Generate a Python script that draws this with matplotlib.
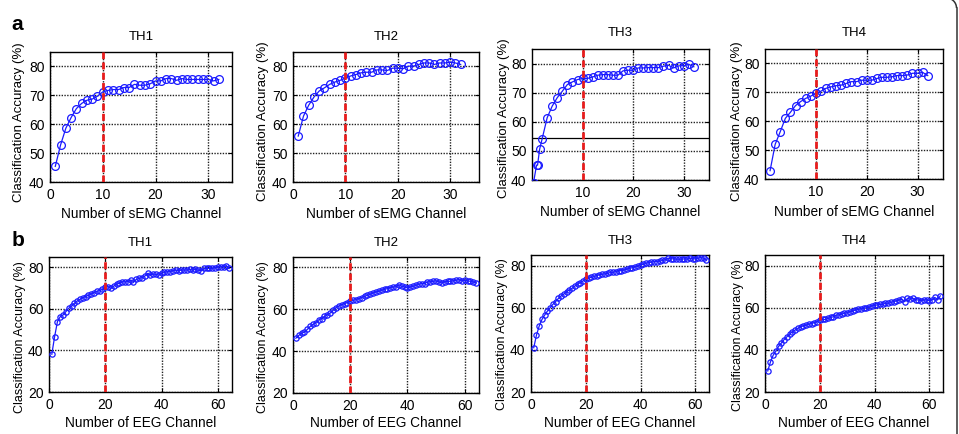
import numpy as np
import matplotlib
matplotlib.use('Agg')
import matplotlib.pyplot as plt
from matplotlib.patches import Arc
from matplotlib.lines import Line2D
from matplotlib.transforms import IdentityTransform

plt.rcParams['font.family'] = ['Liberation Sans', 'DejaVu Sans']

titles = ['TH1', 'TH2', 'TH3', 'TH4']
semg_xlabel = 'Number of sEMG Channel'
eeg_xlabel = 'Number of EEG Channel'
ylabel = 'Classification Accuracy (%)'

semg_x = list(range(1, 33))
semg_x_th3 = [0.3, 0.9, 1.1, 1.5, 2.0] + list(range(3, 33))
eeg_x = list(range(1, 65))

semg_th1 = [45.4, 52.8, 58.6, 62.3, 65.4, 67.2, 68.3, 68.7, 69.7, 71.2, 71.7, 72.0, 72.0, 72.7, 72.7, 73.8,
            73.5, 73.5, 74.0, 75.0, 75.0, 75.8, 75.8, 75.2, 75.8, 75.5, 75.5, 75.5, 75.5, 75.5, 75.0, 75.5]
semg_th2 = [55.9, 62.8, 66.6, 69.4, 71.5, 72.6, 73.8, 74.6, 75.2, 76.0, 76.7, 77.2, 77.8, 78.0, 78.0, 78.8,
            78.8, 78.6, 79.4, 79.4, 79.2, 80.1, 80.1, 80.7, 81.2, 81.2, 80.7, 81.2, 81.2, 81.5, 81.2, 80.7]
semg_th3 = [39.1, 45.1, 45.1, 50.5, 54.1, 61.4, 65.4, 68.3, 70.5, 72.8, 73.7, 74.5, 74.9, 74.9, 75.4, 76.0,
            76.2, 76.2, 76.0, 76.0, 77.5, 77.7, 77.7, 78.5, 78.5, 78.6, 78.6, 78.6, 79.1, 79.4, 78.5, 79.2,
            79.3, 79.7, 78.9]
semg_th4 = [42.9, 52.0, 56.4, 61.0, 63.1, 65.4, 66.8, 67.9, 68.7, 69.6, 70.4, 71.4, 71.9, 72.3, 72.5, 73.1,
            73.7, 73.7, 74.2, 74.2, 74.2, 74.8, 75.2, 75.2, 75.4, 75.8, 75.8, 76.0, 76.6, 76.6, 76.9, 75.8]

eeg_th1 = [38.2, 46.7, 53.9, 56.3, 57.1, 58.7, 60.3, 61.4, 62.7, 63.8,
           64.6, 65.4, 65.9, 66.6, 67.2, 67.8, 68.5, 68.8, 69.4, 70.7,
           70.7, 69.9, 71.0, 72.0, 72.3, 73.1, 73.0, 73.1, 73.9, 73.1,
           74.2, 74.7, 75.0, 75.8, 77.1, 76.3, 76.8, 76.6, 76.3, 77.1,
           77.6, 77.9, 77.9, 78.4, 78.7, 78.4, 78.7, 78.7, 78.7, 79.0,
           78.7, 79.0, 78.7, 78.4, 79.5, 79.5, 79.5, 79.5, 79.8, 80.3,
           80.3, 80.3, 80.6, 79.5]
eeg_th2 = [46.2, 47.5, 48.6, 49.1, 50.4, 51.8, 52.8, 53.6, 55.0, 55.5,
           56.6, 57.4, 58.2, 59.5, 60.8, 61.6, 62.2, 62.7, 63.2, 64.0,
           64.3, 64.6, 65.1, 65.6, 66.2, 66.7, 67.2, 67.8, 68.3, 68.6,
           69.1, 69.6, 69.9, 70.4, 70.7, 70.7, 71.8, 71.0, 70.7, 70.2,
           70.7, 71.0, 71.5, 72.0, 72.3, 72.3, 73.1, 73.1, 73.4, 73.6,
           73.1, 72.6, 73.1, 73.4, 73.4, 73.6, 73.9, 74.2, 73.6, 73.9,
           73.6, 73.4, 73.1, 72.6]
eeg_th3 = [41.0, 47.0, 51.3, 54.4, 56.5, 58.4, 60.0, 61.6, 62.9, 64.4,
           65.6, 66.5, 67.6, 68.4, 69.2, 70.3, 71.1, 71.9, 72.7, 73.5,
           74.0, 74.4, 74.8, 75.2, 75.6, 75.9, 76.0, 76.3, 76.7, 76.8,
           77.1, 77.5, 77.6, 77.9, 78.3, 78.7, 79.0, 79.4, 79.8, 80.3,
           80.6, 81.1, 81.4, 81.6, 81.9, 81.9, 82.1, 82.4, 82.7, 83.5,
           83.2, 83.2, 83.0, 83.0, 83.0, 83.2, 83.0, 83.5, 83.2, 83.2,
           83.5, 83.8, 83.5, 82.7]
eeg_th4 = [30.0, 34.3, 37.5, 39.4, 41.7, 43.3, 44.9, 46.2, 47.5, 48.6,
           49.4, 50.2, 51.0, 51.3, 51.7, 52.2, 52.5, 52.9, 53.3, 54.1,
           54.4, 54.4, 54.9, 55.4, 55.7, 56.5, 56.5, 57.0, 57.3, 57.6,
           58.1, 58.4, 58.9, 59.2, 59.4, 59.7, 60.0, 60.2, 60.8, 61.3,
           61.3, 61.6, 61.6, 62.1, 62.1, 62.5, 62.9, 63.2, 63.7, 64.0,
           62.9, 64.4, 64.1, 64.4, 63.7, 63.7, 63.3, 63.7, 63.7, 63.3,
           63.7, 64.9, 63.7, 65.6]

semg_xs = [semg_x, semg_x, semg_x_th3, semg_x]
semg_ys = [semg_th1, semg_th2, semg_th3, semg_th4]
eeg_ys = [eeg_th1, eeg_th2, eeg_th3, eeg_th4]
semg_cut = 10
eeg_cut = 20

W, H = 959, 434
fig = plt.figure(figsize=(W / 100, H / 100), dpi=100)


def add_axes(l, t, r, b):
    return fig.add_axes([l / W, 1 - b / H, (r - l) / W, (b - t) / H])


top_boxes = [(50, 52, 232, 182), (293, 52, 479, 182), (532, 49, 709, 180), (765, 49, 943, 179)]
bot_boxes = [(49, 257, 232, 392), (293, 257, 479, 393), (531, 255, 709, 392), (765, 255, 943, 392)]
top_ylab = [(25, 122), (269, 121), (510, 118), (743, 121)]
bot_ylab = [(26, 337), (269, 337), (508, 334), (744, 335)]
top_xlims = [(0, 34.5), (0, 35.5), (0, 35), (0, 35)]


def style(ax, box, ylab_xy, xlab_y):
    l, t, r, b = box
    for s in ax.spines.values():
        s.set_linewidth(1.0)
        s.set_color('black')
    ax.tick_params(direction='in', length=3, width=0.8, labelsize=10, pad=4,
                   top=True, right=True, colors='black')
    ax.grid(True, color='#222222', linestyle=(0, (1, 1)), linewidth=1.0)
    ax.set_axisbelow(True)
    ax.yaxis.set_label_coords((ylab_xy[0] - l) / (r - l), (b - ylab_xy[1]) / (b - t))
    ax.xaxis.set_label_coords(0.5, -(xlab_y - b) / (b - t))


for i in range(4):
    box = top_boxes[i]
    ax = add_axes(*box)
    ax.plot(semg_xs[i], semg_ys[i], color='#1a1aff', lw=0.9, marker='o', ms=5.6,
            mfc='none', mec='#1a1aff', mew=0.9, zorder=3)
    ax.axvline(semg_cut, color='#e81c1c', lw=2.0, linestyle=(0, (2.5, 1.2)), zorder=4)
    if i == 2:
        ax.axhline(54.5, color='black', lw=0.9, zorder=1)
    ax.set_xlim(*top_xlims[i])
    ax.set_ylim(40, 85)
    ax.set_yticks([40, 50, 60, 70, 80])
    if i in (2, 3):
        ax.set_xticks([10, 20, 30])
    else:
        ax.set_xticks([0, 10, 20, 30])
    ax.set_title(titles[i], fontsize=9.5, pad=9)
    ax.set_xlabel(semg_xlabel, fontsize=9.8)
    ax.set_ylabel(ylabel, fontsize=9.5)
    style(ax, box, top_ylab[i], 207 if i < 2 else 205)

for i in range(4):
    box = bot_boxes[i]
    ax = add_axes(*box)
    ax.plot(eeg_x, eeg_ys[i], color='#1a1aff', lw=0.9, marker='o', ms=3.8,
            mfc='none', mec='#1a1aff', mew=0.9, zorder=3)
    ax.axvline(eeg_cut, color='#e81c1c', lw=2.0, linestyle=(0, (2.5, 1.2)), zorder=4)
    ax.set_xlim(0, 65)
    ax.set_ylim(20, 85)
    ax.set_yticks([20, 40, 60, 80])
    ax.set_xticks([0, 20, 40, 60])
    ax.set_title(titles[i], fontsize=9.5, pad=8)
    ax.set_xlabel(eeg_xlabel, fontsize=9.8)
    ax.set_ylabel(ylabel, fontsize=9)
    style(ax, box, bot_ylab[i], 416)

fig.text(17 / W, 1 - 25 / H, 'a', fontsize=15, fontweight='bold', ha='center', va='center')
fig.text(18 / W, 1 - 241 / H, 'b', fontsize=15, fontweight='bold', ha='center', va='center')

# outer rounded frame (only the right edge and top-right corner are visible)
frame_col = '#333333'
fig.add_artist(Line2D([956.5, 956.5], [-10, 426], transform=IdentityTransform(),
                      color=frame_col, lw=1.1))
fig.add_artist(Arc((946.5, 426), 20, 20, theta1=0, theta2=90, transform=IdentityTransform(),
                   color=frame_col, lw=1.1))
fig.add_artist(Line2D([900, 946.5], [436, 436], transform=IdentityTransform(),
                      color=frame_col, lw=1.1))

fig.savefig('out.png', dpi=100)
